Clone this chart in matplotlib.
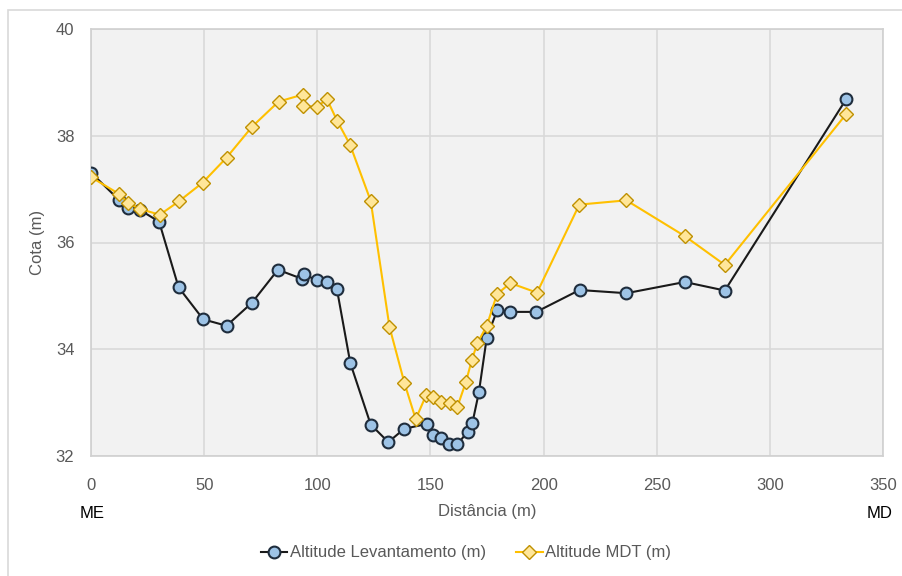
import matplotlib
matplotlib.use("Agg")
from matplotlib import pyplot as plt
from matplotlib import font_manager
from matplotlib.patches import Rectangle

# distances (m) and altitudes (m)
dist_lev = [0, 12.3, 16.4, 21.6, 30.1, 38.7, 49.6, 59.9, 71.1, 82.6, 93.2, 94.1,
            99.7, 104.2, 108.7, 114.6, 123.6, 131.4, 138.4, 148.4, 151.3, 154.7,
            158.4, 161.9, 166.4, 168.5, 171.4, 174.9, 179.6, 185.0, 196.8, 215.9,
            236.6, 262.4, 280.1, 333.8]
alt_lev = [37.31, 36.80, 36.64, 36.61, 36.39, 35.16, 34.56, 34.44, 34.87, 35.49,
           35.32, 35.41, 35.29, 35.26, 35.12, 33.74, 32.59, 32.26, 32.51, 32.60,
           32.39, 32.34, 32.22, 32.22, 32.45, 32.61, 33.19, 34.22, 34.74, 34.70,
           34.70, 35.11, 35.05, 35.26, 35.10, 38.69]

dist_mdt = [0.2, 12.4, 16.5, 21.5, 30.4, 38.8, 49.3, 59.9, 71.2, 82.9, 93.5, 93.8,
            100.0, 104.2, 108.9, 114.5, 123.6, 131.9, 138.5, 143.5, 148.1, 151.1,
            154.7, 158.7, 161.9, 165.7, 168.3, 170.7, 174.9, 179.4, 185.3, 197.1,
            215.8, 236.6, 262.4, 280.1, 333.8]
alt_mdt = [37.22, 36.91, 36.74, 36.63, 36.52, 36.77, 37.12, 37.59, 38.17, 38.64,
           38.77, 38.56, 38.54, 38.69, 38.27, 37.83, 36.78, 34.42, 33.37, 32.69,
           33.14, 33.10, 33.02, 32.99, 32.92, 33.39, 33.80, 34.11, 34.44, 35.03,
           35.24, 35.06, 36.71, 36.79, 36.12, 35.58, 38.41]

x_ticks = [0, 50, 100, 150, 200, 250, 300, 350]
y_ticks = [32, 34, 36, 38, 40]

installed = {f.name for f in font_manager.fontManager.ttflist}
family = "Liberation Sans Narrow" if "Liberation Sans Narrow" in installed else "Liberation Sans"
plt.rcParams["font.family"] = [family, "DejaVu Sans"]

GRAY_TEXT = "#595959"
GRID = "#d9d9d9"


def main():
    fig = plt.figure(figsize=(9.02, 5.76), dpi=100)
    # chart frame, partly cut off like the source screenshot
    fig.patches.append(Rectangle((8 / 902, -0.01), 1.0, 1 - 10 / 576 + 0.01,
                                 transform=fig.transFigure, fill=False,
                                 edgecolor=GRID, linewidth=1.2))
    ax = fig.add_axes([91 / 902, 1 - 456 / 576, (883 - 91) / 902, (456 - 29) / 576])
    ax.set_facecolor("#f2f2f2")

    ax.plot(dist_lev, alt_lev, color="#1a1a1a", linewidth=1.5, marker="o",
            markersize=8.5, markerfacecolor="#9dc3e6", markeredgecolor="#1f2d3d",
            markeredgewidth=1.5, label="Altitude Levantamento (m)", zorder=3)
    ax.plot(dist_mdt, alt_mdt, color="#ffc000", linewidth=1.5, marker="D",
            markersize=7.5, markerfacecolor="#ffe699", markeredgecolor="#bf9000",
            markeredgewidth=1.0, label="Altitude MDT (m)", zorder=4)

    ax.set_xlim(0, 350)
    ax.set_ylim(32, 40)
    ax.set_xticks(x_ticks)
    ax.set_yticks(y_ticks)
    ax.grid(True, color=GRID, linewidth=1.2)
    ax.set_axisbelow(True)
    for side in ax.spines.values():
        side.set_color("#d0d0d0")
        side.set_linewidth(1.2)
    ax.tick_params(length=0, labelsize=12, labelcolor=GRAY_TEXT)
    ax.tick_params(axis="x", pad=16)
    ax.tick_params(axis="y", pad=12)

    ax.set_xlabel("Distância (m)", fontsize=12, color=GRAY_TEXT, labelpad=8)
    ax.set_ylabel("Cota (m)", fontsize=12, color=GRAY_TEXT, labelpad=8)

    fig.text(92 / 902, 1 - 513 / 576, "ME", fontsize=12, color="black",
             ha="center", va="center")
    fig.text(880 / 902, 1 - 513 / 576, "MD", fontsize=12, color="black",
             ha="center", va="center")

    fig.legend(loc="center", bbox_to_anchor=(466 / 902, 1 - 553 / 576), ncol=2,
               frameon=False, fontsize=12, handlelength=1.6, handletextpad=0.15,
               columnspacing=1.8, labelcolor=GRAY_TEXT)

    fig.savefig("out.png", dpi=100)


if __name__ == "__main__":
    main()
